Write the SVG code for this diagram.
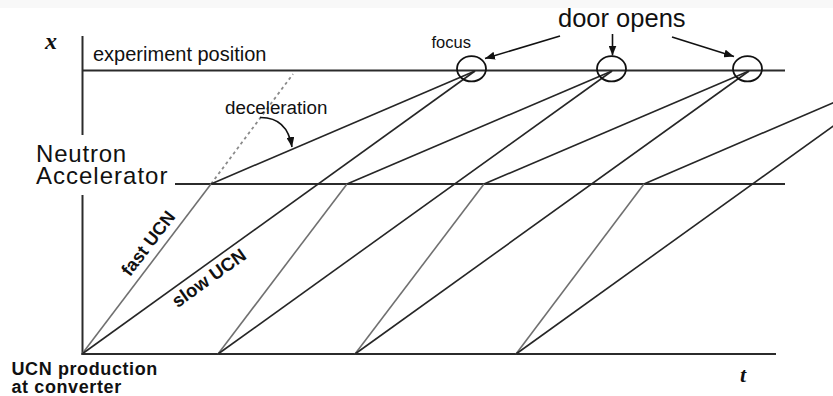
<svg xmlns="http://www.w3.org/2000/svg" width="833" height="396" viewBox="0 0 833 396">
  <defs>
    <style>
      .sans { font-family: "Liberation Sans", Arial, Helvetica, sans-serif; fill: #111; }
      .serif { font-family: "Liberation Serif", "Times New Roman", serif; font-style: italic; font-weight: bold; fill: #111; }
      .axis { stroke: #2b2b2b; stroke-width: 2; fill: none; }
      .slow { stroke: #262626; stroke-width: 1.6; fill: none; }
      .fast { stroke: #707070; stroke-width: 1.6; fill: none; }
      .decel { stroke: #262626; stroke-width: 1.6; fill: none; }
      .extra { stroke: #8a8a8a; stroke-width: 1.8; stroke-dasharray: 3 3.2; fill: none; }
      .door { stroke: #111; stroke-width: 1.8; fill: none; }
      .pointer { stroke: #111; stroke-width: 1.6; fill: none; marker-end: url(#head); }
    </style>
    <marker id="head" viewBox="0 0 10 8" refX="10" refY="4" markerWidth="10" markerHeight="8" markerUnits="userSpaceOnUse" orient="auto">
      <path d="M0,0 L10,4 L0,8 Z" fill="#111"/>
    </marker>
  </defs>

  <rect x="0" y="0" width="833" height="396" fill="#ffffff"/>
  <rect x="0" y="0" width="833" height="8" fill="#f8f8f8"/>

  <!-- axes and reference levels -->
  <g id="axes">
    <line class="axis" x1="82.5" y1="36" x2="82.5" y2="135"/>
    <line class="axis" x1="82.5" y1="195" x2="82.5" y2="355"/>
    <line class="axis" x1="81.5" y1="354" x2="776" y2="354"/>
    <line class="axis" x1="82.5" y1="70.5" x2="785" y2="70.5"/>
    <line class="axis" x1="175" y1="184" x2="785" y2="184"/>
  </g>

  <!-- neutron trajectories, one set per pulse -->
  <g id="trajectories">
    <line class="extra" x1="211" y1="184" x2="293" y2="74"/>

    <line class="fast" x1="82" y1="354" x2="211" y2="184"/>
    <line class="decel" x1="211" y1="184" x2="475" y2="71"/>
    <line class="slow" x1="82" y1="354" x2="475" y2="71"/>

    <line class="fast" x1="218" y1="354" x2="347" y2="184"/>
    <line class="decel" x1="347" y1="184" x2="612" y2="71"/>
    <line class="slow" x1="218" y1="354" x2="612" y2="71"/>

    <line class="fast" x1="355" y1="354" x2="484" y2="184"/>
    <line class="decel" x1="484" y1="184" x2="749" y2="71"/>
    <line class="slow" x1="355" y1="354" x2="749" y2="71"/>

    <line class="fast" x1="516" y1="354" x2="644" y2="184"/>
    <line class="decel" x1="644" y1="184" x2="900" y2="74"/>
    <line class="slow" x1="516" y1="354" x2="900" y2="78"/>
  </g>

  <!-- door openings at the experiment -->
  <g id="doors">
    <ellipse class="door" cx="471.5" cy="68.8" rx="14.5" ry="12.6"/>
    <ellipse class="door" cx="611.5" cy="68.8" rx="14.5" ry="12.6"/>
    <ellipse class="door" cx="747.5" cy="68.8" rx="14.5" ry="12.6"/>
  </g>

  <!-- annotation arrows -->
  <g id="connectors">
    <line class="pointer" x1="560" y1="36" x2="485" y2="58.5"/>
    <line class="pointer" x1="612.5" y1="34" x2="612.5" y2="55.5"/>
    <line class="pointer" x1="672" y1="37" x2="734" y2="56.5"/>
    <path class="pointer" d="M260,117.5 Q287,117 292,147"/>
  </g>

  <!-- labels -->
  <g id="label-x"><text class="serif" x="45" y="49" font-size="24">x</text></g>
  <g id="label-t"><text class="serif" x="740" y="382" font-size="22">t</text></g>
  <g id="label-experiment"><text class="sans" x="93" y="61" font-size="20">experiment position</text></g>
  <g id="label-accelerator">
    <text class="sans" x="36" y="162" font-size="24" letter-spacing="0.8">Neutron</text>
    <text class="sans" x="36" y="184" font-size="24" letter-spacing="1">Accelerator</text>
  </g>
  <g id="label-deceleration"><text class="sans" x="225" y="114" font-size="18.8">deceleration</text></g>
  <g id="label-focus"><text class="sans" x="431.5" y="48" font-size="16.5">focus</text></g>
  <g id="label-door"><text class="sans" x="558" y="27" font-size="25.5">door opens</text></g>
  <g id="label-fast"><text class="sans" font-weight="bold" font-size="18" text-anchor="middle" x="153" y="247" transform="rotate(-52.6 153 247)">fast UCN</text></g>
  <g id="label-slow"><text class="sans" font-weight="bold" font-size="18.5" text-anchor="middle" x="212.5" y="283" transform="rotate(-35.6 212.5 283)">slow UCN</text></g>
  <g id="label-source">
    <text class="sans" font-weight="bold" font-size="18" letter-spacing="0.6" x="11.5" y="375">UCN production</text>
    <text class="sans" font-weight="bold" font-size="18" letter-spacing="0.6" x="11.5" y="393">at converter</text>
  </g>
</svg>
